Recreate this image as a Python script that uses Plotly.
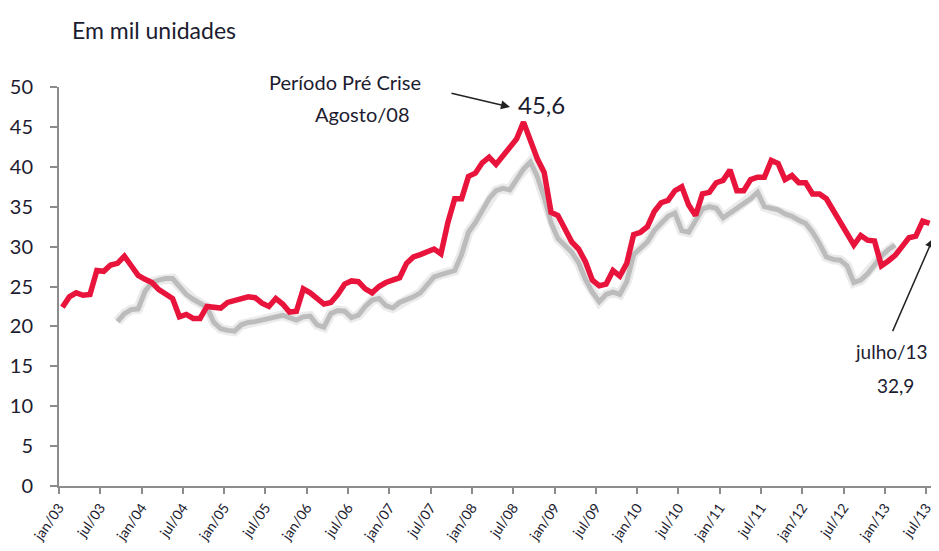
import plotly.graph_objects as go

# Monthly series, jan/03 .. jul/13 (127 months)
red_values = [
    22.4, 23.7, 24.2, 23.9, 24.0, 27.0, 26.9, 27.7, 27.9, 28.8,
    27.6, 26.4, 25.9, 25.5, 24.6, 24.1, 23.5, 21.2, 21.5, 21.0,
    21.0, 22.5, 22.4, 22.3, 23.0, 23.2, 23.5, 23.7, 23.6, 22.9,
    22.5, 23.5, 22.8, 21.8, 21.9, 24.7, 24.2, 23.5, 22.8, 23.0,
    24.0, 25.3, 25.7, 25.6, 24.7, 24.2, 25.0, 25.5, 25.8, 26.1,
    27.9, 28.7, 29.0, 29.3, 29.7, 29.1, 33.0, 36.0, 36.0, 38.8,
    39.2, 40.5, 41.2, 40.3, 41.4, 42.3, 43.5, 45.6, 43.3, 41.0,
    39.3, 34.3, 33.9, 32.4, 30.6, 29.7, 28.1, 25.8, 25.1, 25.3,
    27.0, 26.3, 27.9, 31.5, 31.8, 32.5, 34.4, 35.5, 35.8, 37.0,
    37.5, 35.2, 33.9, 36.6, 36.8, 38.0, 38.3, 39.6, 37.0, 37.0,
    38.4, 38.7, 38.7, 40.8, 40.4, 38.4, 38.9, 38.0, 38.0, 36.6,
    36.6, 36.0, 34.6, 33.0, 31.8, 30.2, 31.4, 30.8, 30.7, 27.6,
    28.2, 28.9, 30.0, 31.1, 31.3, 33.2, 32.9,
]

gray_start = 8  # first month index of the grey series (sep/03)
gray_values = [
    20.6, 21.6, 22.1, 22.2, 24.4, 25.5, 25.8, 26.0, 26.0, 25.0,
    24.0, 23.4, 22.9, 22.4, 20.5, 19.7, 19.5, 19.4, 20.2, 20.5,
    20.6, 20.8, 21.0, 21.2, 21.4, 21.1, 20.8, 21.2, 21.3, 20.2,
    19.9, 21.6, 22.0, 21.9, 21.1, 21.4, 22.5, 23.3, 23.5, 22.6,
    22.3, 23.0, 23.3, 23.7, 24.2, 25.3, 26.2, 26.5, 26.8, 27.0,
    29.0, 31.8, 33.0, 34.5, 36.0, 37.0, 37.3, 37.1, 38.5, 39.7,
    40.6, 38.8, 36.2, 33.0, 31.0, 30.2, 29.3, 28.0, 25.9, 24.3,
    23.1, 24.0, 24.3, 24.0, 25.6, 29.0, 29.8, 30.6, 32.0, 33.0,
    33.8, 34.2, 32.0, 31.8, 33.3, 34.7, 35.0, 34.8, 33.6, 34.2,
    34.9, 35.5, 36.0, 36.8, 35.0, 34.8, 34.6, 34.1, 33.8, 33.3,
    32.9, 31.8, 30.4, 28.7, 28.4, 28.3, 27.6, 25.5, 25.8, 26.6,
    27.8, 28.8, 29.6, 30.2,
]

years = list(range(3, 14))
tick_labels = []
for yy in years:
    tick_labels.append(f"jan/{yy:02d}")
    tick_labels.append(f"jul/{yy:02d}")
tick_labels = tick_labels[:22]  # ends at jul/13
y_ticks = list(range(0, 51, 5))

x_red = list(range(len(red_values)))
x_gray = list(range(gray_start, gray_start + len(gray_values)))
tick_pos = [i * 6 - 0.5 for i in range(len(tick_labels))]

font_fam = "Lato, 'Open Sans', sans-serif"
dark = "#1c1c30"

fig = go.Figure()
# blurred grey shadow-like series
fig.add_trace(go.Scatter(x=x_gray, y=gray_values, mode="lines",
                         line=dict(color="rgba(175,175,175,0.25)", width=10),
                         hoverinfo="skip", showlegend=False))
fig.add_trace(go.Scatter(x=x_gray, y=gray_values, mode="lines",
                         line=dict(color="rgba(150,150,150,0.55)", width=5),
                         showlegend=False))
fig.add_trace(go.Scatter(x=x_red, y=red_values, mode="lines",
                         line=dict(color="#E8143C", width=5.5),
                         showlegend=False))

fig.update_layout(
    width=931, height=543,
    margin=dict(l=51, r=6, t=79, b=65, autoexpand=False),
    paper_bgcolor="white", plot_bgcolor="white",
    font=dict(family=font_fam, color=dark),
    xaxis=dict(range=[-0.5, len(red_values) - 0.5], tickmode="array",
               tickvals=tick_pos, ticktext=tick_labels, tickangle=-55,
               ticks="outside", ticklen=6, tickwidth=2, tickcolor="#8c8c8c",
               showline=True, linecolor="#8c8c8c", linewidth=2,
               showgrid=False, zeroline=False, automargin=False,
               tickfont=dict(size=14, color=dark, family=font_fam)),
    yaxis=dict(range=[0, 50], tickmode="array", tickvals=y_ticks,
               ticks="outside", ticklen=7, tickwidth=2, tickcolor="#8c8c8c",
               showline=True, linecolor="#8c8c8c", linewidth=2,
               showgrid=False, zeroline=False, ticklabelstandoff=13,
               automargin=False,
               tickfont=dict(size=20, color=dark, family=font_fam)),
    annotations=[
        dict(text="Em mil unidades", xref="paper", yref="paper", x=0.0126, y=1.143,
             xanchor="left", yanchor="middle", showarrow=False,
             font=dict(size=23, color=dark)),
        dict(text="Período Pré Crise", xref="paper", yref="paper", x=0.327, y=1.0125,
             xanchor="center", yanchor="middle", showarrow=False,
             font=dict(size=20, color=dark)),
        dict(text="Agosto/08", xref="paper", yref="paper", x=0.347, y=0.932,
             xanchor="center", yanchor="middle", showarrow=False,
             font=dict(size=20, color=dark)),
        dict(text="", xref="paper", yref="paper", x=0.516, y=0.95,
             ax=-60, ay=-14, showarrow=True, arrowhead=2, arrowsize=1.2,
             arrowwidth=1.5, arrowcolor="#222"),
        dict(text="45,6", xref="x", yref="y", x=67, y=red_values[67],
             xanchor="left", yanchor="bottom", xshift=-8, yshift=1, showarrow=False,
             font=dict(size=24, color=dark)),
        dict(text="julho/13", xref="paper", yref="paper", x=0.953, y=0.336,
             xanchor="center", yanchor="middle", showarrow=False,
             font=dict(size=19, color=dark)),
        dict(text=f"{red_values[-1]:.1f}".replace(".", ","), xref="paper", yref="paper",
             x=0.957, y=0.253, xanchor="center", yanchor="middle", showarrow=False,
             font=dict(size=19, color=dark)),
        dict(text="", xref="paper", yref="paper", x=1.0, y=0.62,
             ax=-41, ay=94, showarrow=True, arrowhead=2, arrowsize=1.2,
             arrowwidth=1.5, arrowcolor="#222"),
    ],
)

fig.write_html("out.html")
